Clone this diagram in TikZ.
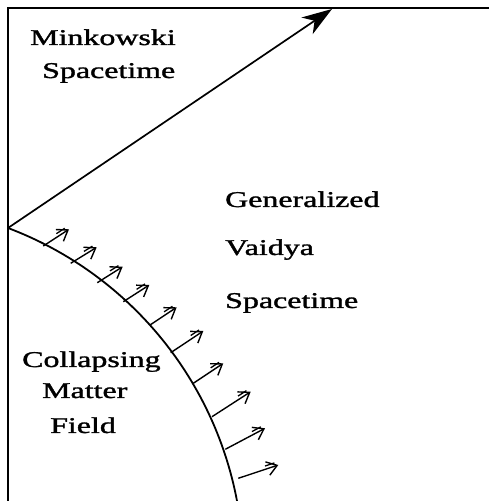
\documentclass[tikz,border=0pt]{standalone}
\usepackage{fontspec}
\setmainfont{Liberation Serif}
\newfontface\heavyserif[FakeBold=1.2]{Liberation Serif}
\usetikzlibrary{arrows.meta,calc}
\newcommand{\wide}[1]{\scalebox{1.42}[1]{#1}}
\tikzset{
  lbl/.style={anchor=base west, inner sep=0pt, font=\heavyserif\fontsize{22.5}{27}\selectfont},
  frame/.style={line width=1.8pt, black},
  bigarrow/.style={line width=1.7pt, -{Stealth[length=30pt,width=20pt,inset=9pt]}},
  flux/.style={line width=1.4pt, -{Straight Barb[length=10pt,width=14pt,line width=1.4pt]}},
  fluxin/.style={line width=1.3pt}
}
\begin{document}
\begin{tikzpicture}[x=1pt,y=1pt]
\useasboundingbox (0,0) rectangle (489,501);
\coordinate (bl) at (8,0);
\coordinate (tl) at (8,493);
\coordinate (tr) at (489,493);
\coordinate (o) at (8,273);
\coordinate (tip) at (332,492);
\draw[frame] (bl) -- (tl) -- (tr);
\draw[bigarrow] (o) -- (tip);
% collapsing boundary (circular arc)
\draw[frame] (o) arc[start angle=69.3, end angle=10.7, radius=364];
% outgoing flux arrows
\foreach \i/\bx/\by/\tx/\ty in {
  1/43.3/255/69/271.7,
  2/70.7/237.7/96.7/253.7,
  3/97.3/218.3/122.7/234.3,
  4/123.3/199.3/149.3/216,
  5/150/176/176.7/193.7,
  6/170.7/148.3/203.3/170,
  7/193.3/117.7/223.3/137.7,
  8/212/84.3/250.7/109.3,
  9/225.3/51.7/265/72.7,
  10/238.3/22.7/278.3/36}{
  \coordinate (b\i) at (\bx,\by);
  \coordinate (t\i) at (\tx,\ty);
  \draw[flux] (b\i) -- (t\i);
  \draw[fluxin] ($(t\i)!3pt!(b\i)!3.2pt!-90:(b\i)$) -- ($(t\i)!13pt!(b\i)!3.2pt!-90:(b\i)$);
}
\node[lbl] (m1) at (30,456) {\wide{Minkowski}};
\node[lbl] (m2) at (42,423) {\wide{Spacetime}};
\node[lbl] (g1) at (225,294) {\wide{Generalized}};
\node[lbl] (g2) at (225,246) {\wide{Vaidya}};
\node[lbl] (g3) at (225,193) {\wide{Spacetime}};
\node[lbl] (c1) at (22,134) {\wide{Collapsing}};
\node[lbl] (c2) at (42,103) {\wide{Matter}};
\node[lbl] (c3) at (50,68) {\wide{Field}};
\end{tikzpicture}
\end{document}
